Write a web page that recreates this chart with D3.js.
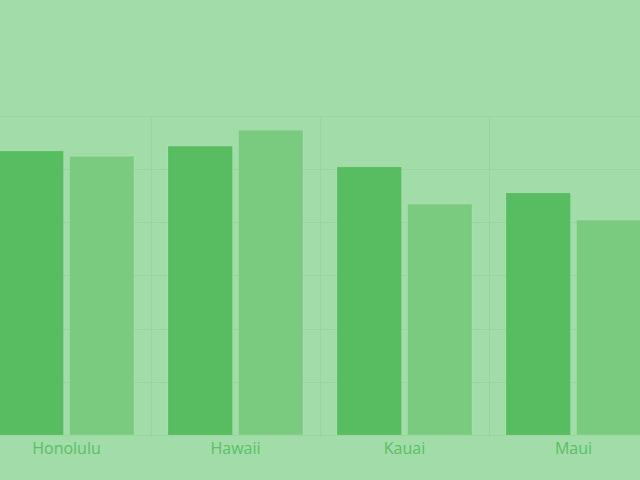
<!DOCTYPE html>
<html>
<head>
<meta charset="utf-8">
<script src="https://cdn.jsdelivr.net/npm/d3@7"></script>
<style>
    html, body { margin: 0; padding: 0; background: #a1dca9; }
    .label { font-family: "Open Sans", sans-serif; font-size: 16px; fill: #5bbf63; }
</style>
</head>
<body>
<div id="chart"></div>
<script>
// categories and the two series
var islands = ["Honolulu", "Hawaii", "Kauai", "Maui"];
var seriesA = [53.4, 54.3, 50.4, 45.5];
var seriesB = [52.4, 57.3, 43.4, 40.4];
var gridValues = [0, 10, 20, 30, 40, 50, 60];

var width = 640;
var height = 480;

var svg = d3.select("#chart")
    .append("svg")
    .attr("width", width)
    .attr("height", height);

svg.append("rect")
    .attr("width", width)
    .attr("height", height)
    .attr("fill", "#a1dca9");

// scales
var xScale = d3.scaleBand()
    .domain(islands)
    .range([-18, 658]);

var subScale = d3.scaleBand()
    .domain(["a", "b"])
    .range([17, xScale.bandwidth() - 17])
    .paddingInner(0.085);

var yScale = d3.scaleLinear()
    .domain([0, 81.77])
    .range([435, 0]);

// grid
var grid = svg.append("g");
grid.selectAll(".hgrid")
    .data(gridValues)
    .enter().append("line")
    .attr("class", "hgrid")
    .attr("x1", 0)
    .attr("x2", width)
    .attr("y1", function (d) { return Math.round(yScale(d)) + 0.5; })
    .attr("y2", function (d) { return Math.round(yScale(d)) + 0.5; })
    .attr("stroke", "#96d59e")
    .attr("stroke-width", 1);

grid.selectAll(".vgrid")
    .data(islands.slice(1))
    .enter().append("line")
    .attr("class", "vgrid")
    .attr("x1", function (d) { return Math.round(xScale(d)) + 0.5; })
    .attr("x2", function (d) { return Math.round(xScale(d)) + 0.5; })
    .attr("y1", yScale(60))
    .attr("y2", yScale(0) + 3)
    .attr("stroke", "#96d59e")
    .attr("stroke-width", 1);

// bars
var groups = svg.selectAll(".island")
    .data(islands)
    .enter().append("g")
    .attr("class", "island")
    .attr("transform", function (d) { return "translate(" + xScale(d) + ",0)"; });

groups.append("rect")
    .attr("x", subScale("a"))
    .attr("width", subScale.bandwidth())
    .attr("y", function (d, i) { return yScale(seriesA[i]); })
    .attr("height", function (d, i) { return yScale(0) - yScale(seriesA[i]); })
    .attr("fill", "#57bd60")
    .attr("stroke", "rgba(255,255,255,0.12)");

groups.append("rect")
    .attr("x", subScale("b"))
    .attr("width", subScale.bandwidth())
    .attr("y", function (d, i) { return yScale(seriesB[i]); })
    .attr("height", function (d, i) { return yScale(0) - yScale(seriesB[i]); })
    .attr("fill", "#7acb80")
    .attr("stroke", "rgba(255,255,255,0.12)");

// x axis labels
var xAxis = d3.axisBottom(xScale).tickSize(0).tickPadding(0);
var axisG = svg.append("g")
    .attr("transform", "translate(0," + yScale(0) + ")")
    .call(xAxis);
axisG.select(".domain").remove();
axisG.selectAll("text")
    .attr("class", "label")
    .attr("fill", null)
    .attr("y", 19)
    .attr("dy", 0)
    .style("font-size", null)
    .style("font-family", null);
axisG.attr("font-size", null).attr("font-family", null);
</script>
</body>
</html>
